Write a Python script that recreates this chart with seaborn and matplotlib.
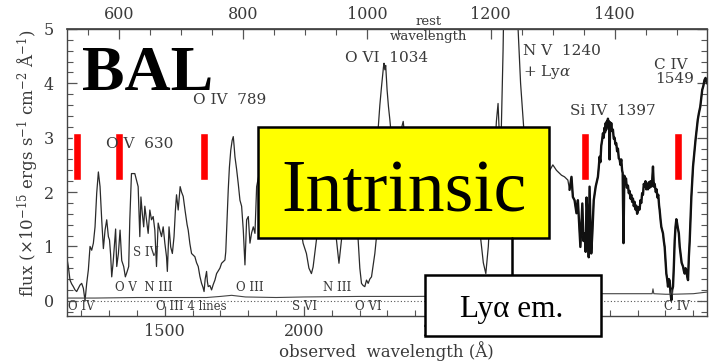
import matplotlib
matplotlib.use("Agg")
import matplotlib.pyplot as plt
from matplotlib.patches import Rectangle
from matplotlib.lines import Line2D
from matplotlib.ticker import MultipleLocator, FixedLocator
import pandas as pd
import seaborn as sns

# ---------------------------------------------------------------------------
# Spectrum of the BAL quasar: observed wavelength (Angstrom) and flux
# (1e-15 erg s^-1 cm^-2 A^-1)
# ---------------------------------------------------------------------------
obs_wavelength = [
    1147, 1153, 1159, 1165, 1171, 1177, 1183, 1189, 1195, 1201, 1207, 1213,
    1219, 1225, 1231, 1237, 1243, 1249, 1255, 1261, 1267, 1273, 1279, 1285,
    1291, 1297, 1301, 1305, 1309, 1314, 1318, 1323, 1327, 1333, 1339, 1345,
    1352, 1358, 1364, 1370, 1374, 1380, 1386, 1392, 1398, 1404, 1410, 1414,
    1419, 1424, 1428, 1434, 1440, 1446, 1452, 1458, 1464, 1470, 1476, 1482,
    1488, 1494, 1500, 1506, 1509, 1515, 1521, 1527, 1533, 1538, 1542, 1548,
    1555, 1560, 1566, 1573, 1580, 1584, 1590, 1596, 1602, 1608, 1614, 1620,
    1626, 1632, 1637, 1641, 1645, 1650, 1653, 1656, 1662, 1668, 1674, 1680,
    1686, 1692, 1698, 1704, 1710, 1716, 1719, 1722, 1725, 1728, 1732, 1737,
    1742, 1746, 1749, 1752, 1758, 1764, 1770, 1776, 1782, 1786, 1788, 1791,
    1794, 1800, 1806, 1812, 1818, 1824, 1830, 1849, 1877, 1913, 1949, 1978,
    1990, 1997, 2009, 2018, 2027, 2033, 2039, 2045, 2057, 2082, 2104, 2112,
    2117, 2126, 2135, 2143, 2160, 2180, 2190, 2195, 2201, 2207, 2213, 2219,
    2225, 2231, 2237, 2243, 2249, 2255, 2261, 2264, 2267, 2273, 2279, 2286,
    2288, 2291, 2294, 2297, 2299, 2304, 2309, 2315, 2330, 2345, 2352, 2357,
    2363, 2380, 2416, 2452, 2488, 2524, 2560, 2596, 2620, 2630, 2636, 2645,
    2654, 2663, 2668, 2672, 2680, 2688, 2692, 2698, 2703, 2709, 2716, 2722,
    2740, 2761, 2770, 2779, 2790, 2812, 2840, 2866, 2884, 2895, 2908, 2926,
    2937, 2949, 2955, 2962, 2967, 2973, 2980, 2985, 2991, 2994, 3001, 3005,
    3009, 3013, 3016, 3021, 3024, 3027, 3033, 3037, 3042, 3049, 3057, 3060,
    3063, 3066, 3069, 3072, 3075, 3078, 3080, 3083, 3085, 3087, 3089, 3091,
    3093, 3095, 3097, 3099, 3101, 3103, 3105, 3108, 3111, 3114, 3117, 3120,
    3123, 3126, 3129, 3132, 3135, 3138, 3141, 3144, 3146, 3149, 3152, 3155,
    3158, 3161, 3165, 3168, 3171, 3174, 3177, 3180, 3183, 3186, 3189, 3192,
    3195, 3198, 3201, 3204, 3207, 3210, 3213, 3216, 3219, 3222, 3225, 3228,
    3231, 3234, 3237, 3240, 3243, 3246, 3249, 3252, 3255, 3258, 3261, 3265,
    3268, 3271, 3274, 3277, 3279, 3282, 3285, 3288, 3291, 3294, 3297, 3300,
    3303, 3306, 3309, 3312, 3315, 3318, 3321, 3324, 3327, 3330, 3333, 3336,
    3339, 3341, 3344, 3348, 3351, 3354, 3358, 3363, 3366, 3369, 3372, 3375,
    3378, 3381, 3384, 3387, 3389, 3393, 3399, 3404, 3408, 3412, 3416, 3420,
    3425, 3428, 3432, 3436, 3440, 3444, 3449,
]
flux = [
    0.81, 0.63, 0.38, 0.31, 0.26, 0.20, 0.17, 0.23, 0.29, 0.32, 0.23, 0.00,
    0.32, 0.57, 1.00, 0.93, 1.06, 1.36, 1.98, 2.37, 2.10, 1.49, 0.96, 1.30,
    1.49, 1.18, 1.12, 0.85, 0.44, 0.70, 0.98, 1.32, 0.63, 0.87, 1.30, 0.74,
    0.63, 0.44, 0.53, 0.63, 1.49, 2.34, 2.34, 2.34, 2.22, 2.10, 1.18, 1.91,
    1.60, 1.36, 1.74, 1.49, 1.24, 1.67, 1.49, 1.55, 1.30, 0.63, 1.43, 1.30,
    1.18, 1.36, 1.06, 0.81, 0.54, 1.36, 0.99, 0.87, 1.18, 1.67, 1.95, 1.67,
    2.10, 2.00, 1.92, 1.65, 1.40, 1.30, 1.05, 0.87, 0.84, 0.81, 0.70, 0.63,
    0.45, 0.32, 0.25, 0.17, 0.40, 0.54, 0.35, 0.26, 0.28, 0.20, 0.30, 0.38,
    0.50, 0.55, 0.60, 0.69, 0.72, 0.75, 0.90, 1.30, 1.70, 2.05, 2.45, 2.77,
    2.95, 3.02, 2.85, 2.65, 2.42, 2.15, 1.85, 1.74, 1.30, 0.90, 0.66, 1.05,
    1.49, 1.55, 1.06, 1.25, 1.36, 1.24, 2.10, 2.60, 2.30, 2.00, 1.70, 1.50,
    1.30, 1.06, 0.87, 0.60, 0.50, 0.62, 0.87, 1.12, 1.60, 1.90, 1.70, 1.30,
    1.12, 0.69, 1.12, 1.50, 1.90, 1.70, 1.30, 1.12, 0.60, 0.32, 0.28, 0.26,
    0.38, 0.32, 0.40, 0.44, 0.65, 0.87, 1.18, 2.20, 3.17, 3.60, 3.94, 4.30,
    4.37, 4.25, 4.33, 4.05, 3.88, 3.57, 3.33, 3.00, 2.70, 2.90, 3.20, 3.30,
    3.00, 2.60, 2.40, 2.50, 2.40, 2.60, 2.70, 2.50, 2.20, 1.30, 1.12, 0.70,
    0.50, 1.00, 1.50, 1.85, 2.40, 2.90, 3.30, 3.63, 3.00, 3.00, 4.60, 6.50,
    8.00, 6.50, 5.00, 4.00, 3.20, 2.90, 2.60, 2.45, 2.40, 2.50, 2.40, 2.31,
    2.28, 2.22, 2.04, 2.28, 1.91, 1.85, 1.61, 1.85, 1.30, 0.99, 1.79, 1.10,
    1.24, 0.90, 1.90, 1.50, 0.80, 2.10, 0.87, 1.24, 1.85, 2.10, 2.28, 2.45,
    2.65, 2.55, 2.85, 2.95, 3.08, 3.00, 3.18, 3.10, 3.27, 3.15, 3.30, 3.20,
    3.35, 3.22, 3.30, 2.60, 3.28, 3.18, 3.27, 3.12, 3.15, 2.98, 3.00, 2.88,
    2.90, 2.75, 2.80, 2.62, 2.60, 2.50, 2.60, 2.40, 2.35, 1.06, 2.30, 2.15,
    2.25, 2.08, 2.12, 1.98, 2.02, 1.88, 1.95, 1.82, 1.88, 1.74, 1.82, 1.68,
    1.75, 1.60, 1.65, 1.72, 1.68, 1.85, 1.80, 1.98, 1.95, 2.15, 2.10, 2.20,
    2.05, 2.15, 2.05, 2.18, 2.08, 2.20, 2.10, 2.20, 2.47, 2.10, 2.15, 2.00,
    2.05, 1.90, 1.95, 1.75, 1.67, 1.50, 1.36, 1.30, 1.24, 1.10, 0.99, 0.75,
    0.50, 0.40, 0.26, 0.40, 0.37, 0.15, 0.01, 0.20, 0.26, 0.63, 1.10, 1.36,
    1.50, 1.45, 1.35, 1.24, 1.00, 0.87, 0.70, 0.63, 0.55, 0.50, 0.60, 0.56,
    0.45, 0.38, 0.81, 1.10, 1.36, 1.91, 2.47, 2.75, 2.96, 3.15, 3.33, 3.45,
    3.57, 3.70, 3.88, 3.95, 4.06, 4.10, 4.00,
]

# 1-sigma error spectrum
err_wavelength = [1147, 1250, 1400, 1550, 1650, 1700, 1740, 1790, 1900, 2000,
                  2200, 2400, 2600, 2800, 2950, 3050, 3150, 3200, 3252, 3255,
                  3258, 3300, 3319, 3322, 3326, 3400, 3449]
err_flux = [0.05, 0.05, 0.06, 0.06, 0.06, 0.08, 0.10, 0.07, 0.06, 0.07,
            0.08, 0.08, 0.09, 0.10, 0.12, 0.13, 0.13, 0.13, 0.13, 0.22,
            0.13, 0.12, 0.12, 0.20, 0.12, 0.13, 0.16]

# Absorption troughs flagged with red markers
trough_centers = [1184, 1335, 1641, 3009, 3344]
trough_low, trough_high = 2.22, 3.09

# Line identifications: (label, observed wavelength, flux, font size)
upper_labels = [
    ("O IV  789", 1601, 3.69, 11),
    ("O V  630", 1288, 2.88, 11),
    ("O VI  1034", 2147, 4.47, 11),
    ("N V  1240", 2787, 4.60, 11),
    ("+ Ly$\\alpha$", 2787, 4.20, 11),
    ("Si IV  1397", 2956, 3.49, 11),
    ("C IV", 3257, 4.34, 11),
    ("1549", 3262, 4.08, 11),
]
lower_labels = [
    ("S IV", 1385, 0.88),
    ("O V  N III", 1320, 0.25),
    ("O III", 1755, 0.25),
    ("N III", 2068, 0.25),
    ("O IV", 1152, -0.10),
    ("O III 4 lines", 1468, -0.10),
    ("S VI", 1956, -0.10),
    ("O VI", 2183, -0.10),
    ("C IV", 3293, -0.10),
]

rest_ticks = [600, 800, 1000, 1200, 1400]
ONE_PLUS_Z = 2.2264
x_limits = (1147, 3449)
y_limits = (-0.28, 5.0)

# ---------------------------------------------------------------------------
sns.set_theme(style="ticks")
plt.rcParams["font.family"] = ["DejaVu Serif"]
plt.rcParams["mathtext.fontset"] = "dejavuserif"

ink = "#3a3a3a"
fig = plt.figure(figsize=(7.13, 3.62), dpi=100)
fig.patch.set_facecolor("white")
ax = fig.add_axes([0.0935, 0.1271, 0.8980, 0.7928])
ax.set_facecolor("white")

spec = pd.DataFrame({"wavelength": obs_wavelength, "flux": flux})
err = pd.DataFrame({"wavelength": err_wavelength, "flux": err_flux})

sns.lineplot(data=spec, x="wavelength", y="flux", ax=ax, estimator=None,
             sort=False, color="#2a2a2a", lw=0.9, zorder=2)
noisy = spec[spec["wavelength"] >= 2955]
sns.lineplot(data=noisy, x="wavelength", y="flux", ax=ax, estimator=None,
             sort=False, color="#111111", lw=1.7, zorder=2)
sns.lineplot(data=err, x="wavelength", y="flux", ax=ax, estimator=None,
             sort=False, color="#444444", lw=0.8, zorder=2)
ax.axhline(0, color="#555555", lw=0.8, ls=(0, (1, 2)), zorder=1)

ax.bar(trough_centers, trough_high - trough_low, bottom=trough_low,
       width=29, color="#ff0000", zorder=3)

ax.set_xlim(*x_limits)
ax.set_ylim(*y_limits)
ax.set_xlabel("")
ax.set_ylabel("")

ax.xaxis.set_major_locator(MultipleLocator(500))
ax.xaxis.set_minor_locator(MultipleLocator(100))
ax.yaxis.set_major_locator(MultipleLocator(1))
ax.yaxis.set_minor_locator(MultipleLocator(0.2))
ax.tick_params(axis="both", which="both", direction="in", colors="#555555",
               labelcolor=ink, labelsize=11.5)
ax.tick_params(axis="x", which="both", top=False, bottom=True, pad=5)
ax.tick_params(axis="y", which="both", left=True, right=True, pad=9)
ax.tick_params(which="major", length=7, width=0.9)
ax.tick_params(which="minor", length=4, width=0.8)

rest = ax.secondary_xaxis("top", functions=(lambda w: w / ONE_PLUS_Z,
                                            lambda w: w * ONE_PLUS_Z))
rest.xaxis.set_major_locator(FixedLocator(rest_ticks))
rest.xaxis.set_minor_locator(MultipleLocator(50))
rest.tick_params(which="both", direction="in", colors="#555555",
                 labelcolor=ink, labelsize=11.5, pad=4)
rest.tick_params(which="major", length=7, width=0.9)
rest.tick_params(which="minor", length=4, width=0.8)
rest.spines["top"].set_color("#444444")

for side in ax.spines.values():
    side.set_color("#444444")
    side.set_linewidth(1.0)

for text, x, y, size in upper_labels:
    ax.text(x, y, text, fontsize=size, color=ink, ha="left", va="center",
            zorder=4)
for text, x, y in lower_labels:
    ax.text(x, y, text, fontsize=8.5, color=ink, ha="left", va="center",
            zorder=4)
ax.text(2449, 5.13, "rest", fontsize=9.5, color=ink, ha="center",
        va="center", clip_on=False)
ax.text(2449, 4.87, "wavelength", fontsize=9.5, color=ink, ha="center",
        va="center")

fig.text(0.5414, 0.0130, "observed  wavelength (Å)", fontsize=12,
         color=ink, ha="center", va="baseline")
fig.text(0.0386, 0.5497,
         "flux ($\\times$10$^{-15}$ ergs s$^{-1}$ cm$^{-2}$ Å$^{-1}$)",
         rotation=90, fontsize=12, color=ink, ha="center", va="center")

# Annotation boxes
fig.text(0.115, 0.7514, "BAL", fontsize=46, fontweight="bold",
         family="Liberation Serif", color="black", ha="left",
         va="baseline")

fig.add_artist(Rectangle((0.3619, 0.3425), 0.4081, 0.3066,
                         transform=fig.transFigure, facecolor="#ffff00",
                         edgecolor="black", lw=1.8, zorder=5))
fig.text(0.566, 0.4144, "Intrinsic", fontsize=53, family="Liberation Serif",
         color="black", ha="center", va="baseline", zorder=6)

fig.add_artist(Line2D([0.7181, 0.7181], [0.3425, 0.2403],
                      transform=fig.transFigure, color="black", lw=1.8,
                      zorder=5))
fig.add_artist(Rectangle((0.5961, 0.0718), 0.2468, 0.1685,
                         transform=fig.transFigure, facecolor="white",
                         edgecolor="black", lw=1.8, zorder=5))
fig.text(0.7181, 0.1251, "Lyα em.", fontsize=22.5, family="Liberation Serif",
         color="black", ha="center", va="baseline", zorder=6)

fig.savefig("out.png", dpi=100, facecolor="white")
